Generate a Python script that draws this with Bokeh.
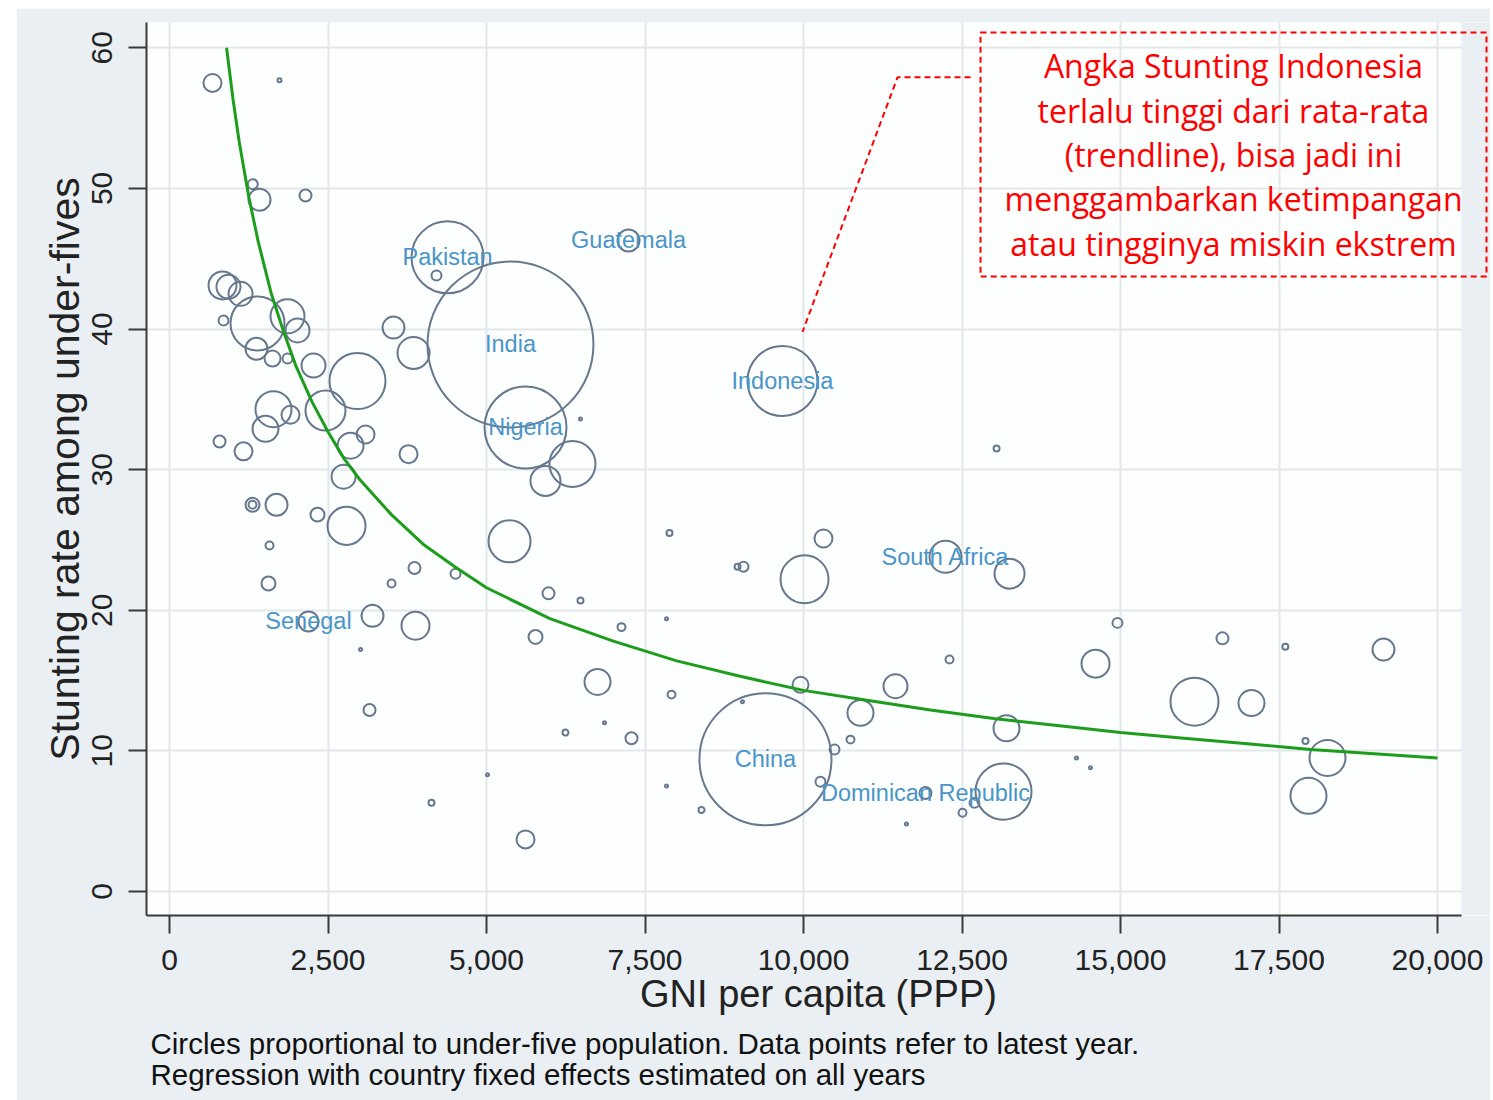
import math
from bokeh.plotting import figure
from bokeh.models import Range1d, Label, NumeralTickFormatter, FixedTicker, ColumnDataSource, Title
from bokeh.embed import file_html
from bokeh.resources import INLINE
from bokeh.core.properties import value

# ---------------- data ----------------
gni = [678, 1735, 1314, 1420, 2145, 836, 930, 1120, 852, 1388, 1861, 2019, 1372, 1625, 1861,
       2271, 2965, 2460, 1640, 1908, 1514, 789, 1167, 2855, 3092, 3770, 2745, 1309, 1309, 1688,
       2334, 2792, 1577, 1561, 3502, 3864, 4511, 2192, 3202, 3880, 3013, 3155, 4132, 5016,
       4385, 4211, 5378, 3533, 3849, 5615, 6356, 5930, 6482, 7240, 5363, 5978, 6482, 5773,
       7129, 7839, 7886, 6751, 7918, 6246, 6861, 7287, 5615, 7839, 8391, 9668, 13045, 9054,
       8960, 10315, 10016, 12240, 13250, 14952, 16608, 17600, 19148, 12303, 14606, 16167,
       17066, 9953, 11451, 10899, 10741, 10489, 13202, 9400, 18265, 17965, 17917, 10268,
       11924, 12697, 12508, 13155, 14306, 14527, 11624, 9038]
stunting = [57.5, 57.7, 50.3, 49.2, 49.5, 43.1, 43.0, 42.5, 40.6, 40.4, 40.9, 39.9, 38.6, 37.9, 37.9,
            37.4, 36.3, 34.2, 34.3, 33.9, 32.9, 32.0, 31.3, 31.7, 32.5, 31.1, 29.5, 27.5, 27.5, 27.5,
            26.8, 26.0, 24.6, 21.9, 21.9, 23.0, 22.6, 19.2, 19.6, 18.9, 17.2, 12.9, 6.3, 8.3,
            45.1, 43.8, 38.9, 40.1, 38.3, 33.0, 30.4, 29.2, 33.6, 46.3, 24.9, 21.2, 20.7, 18.1,
            18.8, 19.4, 25.5, 14.9, 14.0, 11.3, 12.0, 10.9, 3.7, 7.5, 5.8, 36.3, 31.5, 23.1,
            23.1, 25.1, 22.2, 23.8, 22.6, 19.1, 18.0, 17.4, 17.2, 16.5, 16.2, 13.5,
            13.4, 14.7, 14.6, 12.7, 10.8, 10.1, 11.6, 9.4, 9.5, 6.8, 10.7, 7.8,
            7.0, 6.3, 5.6, 7.1, 9.5, 8.8, 4.8, 13.5]
u5pop = [1.44, 0.07, 0.44, 2.15, 0.64, 3.48, 2.56, 2.56, 0.44, 12.96, 5.14, 2.56, 2.15, 1.14, 0.44,
         2.56, 13.94, 7.11, 5.76, 1.44, 3.00, 0.64, 1.44, 3.00, 1.44, 1.44, 2.56, 0.87, 0.28, 2.15,
         0.87, 6.42, 0.28, 0.87, 0.28, 0.64, 0.44, 1.78, 2.15, 3.48, 0.04, 0.64, 0.16, 0.04,
         23.04, 0.44, 122.4, 2.15, 4.55, 29.88, 9.40, 4.00, 0.04, 2.15, 7.84, 0.64, 0.16, 0.87,
         0.28, 0.04, 0.16, 3.00, 0.28, 0.16, 0.04, 0.64, 1.44, 0.04, 0.16, 21.78, 0.16, 0.44,
         0.16, 1.44, 10.24, 4.55, 4.00, 0.44, 0.64, 0.16, 2.15, 0.28, 3.48, 10.24,
         3.00, 1.14, 2.56, 3.00, 0.28, 0.44, 3.00, 77.44, 5.76, 5.76, 0.16, 0.44,
         0.64, 0.44, 0.28, 13.94, 0.04, 0.04, 0.04, 0.04]
country = [""] * len(gni)
labelled = {37: "Senegal", 44: "Pakistan", 46: "India", 49: "Nigeria", 53: "Guatemala",
            69: "Indonesia", 75: "South Africa", 91: "China", 96: "Dominican Republic"}
for i, n in labelled.items():
    country[i] = n

trend_gni = [900, 1000, 1100, 1250, 1400, 1600, 1800, 2000, 2250, 2500, 2750, 3000, 3500, 4000,
             4500, 5000, 6000, 7000, 8000, 9000, 10000, 11000, 12000, 13000, 14000, 15000,
             16000, 17000, 18000, 19000, 20000]
trend_stunting = [60.0, 56.4, 53.3, 49.4, 46.2, 42.6, 39.8, 37.3, 34.8, 32.7, 30.8, 29.3, 26.8, 24.7,
                  23.1, 21.6, 19.4, 17.8, 16.4, 15.3, 14.3, 13.6, 12.9, 12.3, 11.8, 11.3,
                  10.9, 10.5, 10.1, 9.8, 9.5]

x_ticks = [0, 2500, 5000, 7500, 10000, 12500, 15000, 17500, 20000]
y_ticks = [0, 10, 20, 30, 40, 50, 60]

note_text = ("Angka Stunting Indonesia\nterlalu tinggi dari rata-rata\n(trendline), bisa jadi ini\n"
             "menggambarkan ketimpangan\natau tingginya miskin ekstrem")
conn_gni = [12634, 11483, 9984]
conn_stunting = [57.9, 57.9, 39.8]
caption1 = "Circles proportional to under-five population. Data points refer to latest year."
caption2 = "Regression with country fixed effects estimated on all years"

OUTER = "#e9eff3"
X0, X1, XEND = -363, 20379, 20836
Y0, Y1 = -1.71, 61.8

# ---------------- figure ----------------
p = figure(width=1474, height=1092, output_backend="svg", toolbar_location=None,
           x_range=Range1d(X0, XEND), y_range=Range1d(Y0, Y1),
           min_border_left=130, min_border_right=0, min_border_top=14, min_border_bottom=185)
p.margin = (8, 0, 0, 16)
p.background_fill_color = "#fdfefe"
p.border_fill_color = OUTER
p.outline_line_color = None

for ax in (p.xaxis[0], p.yaxis[0]):
    ax.axis_line_color = "#3a3a3a"
    ax.axis_line_width = 2
    ax.major_tick_line_color = "#3a3a3a"
    ax.major_tick_line_width = 2
    ax.major_tick_out = 18
    ax.major_tick_in = 0
    ax.minor_tick_line_color = None
    ax.major_label_text_font = "Liberation Sans"
    ax.major_label_text_font_size = "30px"
    ax.major_label_text_color = "#222222"
    ax.axis_label_text_font = "Liberation Sans"
    ax.axis_label_text_font_style = "normal"
    ax.axis_label_text_color = "#222222"

p.xaxis.bounds = (X0, X1)
p.xaxis.ticker = FixedTicker(ticks=x_ticks)
p.yaxis.ticker = FixedTicker(ticks=y_ticks)
p.xaxis.formatter = NumeralTickFormatter(format="0,0")
p.yaxis.major_label_orientation = "vertical"
p.xaxis.major_label_standoff = 16
p.yaxis.major_label_standoff = 16
p.xaxis.axis_label = "GNI per capita (PPP)"
p.xaxis.axis_label_text_font_size = "38px"
p.xaxis.axis_label_standoff = 0
p.yaxis.axis_label = "Stunting rate among under-fives"
p.yaxis.axis_label_text_font_size = "41px"
p.yaxis.axis_label_standoff = 2

p.xgrid.ticker = FixedTicker(ticks=x_ticks)
p.ygrid.ticker = FixedTicker(ticks=y_ticks)
for g in (p.xgrid[0], p.ygrid[0]):
    g.grid_line_color = "#e3e7ea"
    g.grid_line_width = 2

# strip right of the plot area keeps the outer colour
p.quad(left=[X1], right=[XEND], bottom=[Y0], top=[Y1], fill_color=OUTER, line_color=None)

src = ColumnDataSource(dict(gni=gni, stunting=stunting,
                            size=[15 * math.sqrt(v) for v in u5pop], country=country))
p.scatter("gni", "stunting", size="size", source=src, marker="circle",
          fill_color=None, line_color="#67788e", line_width=2)

p.line(trend_gni, trend_stunting, line_color="#1c9e1c", line_width=3)

lab_idx = [i for i, n in enumerate(country) if n]
p.text([gni[i] for i in lab_idx], [stunting[i] for i in lab_idx], text=[country[i] for i in lab_idx],
       text_align="center", text_baseline="middle", text_font=value("Liberation Sans"),
       text_font_size="23.5px", text_color="#4a95c8")

p.line(conn_gni, conn_stunting, line_color="#ff0000", line_dash="6 4", line_width=2)

note = Label(x=1087, y=761, x_units="screen", y_units="screen", text=note_text,
             text_align="center", text_baseline="middle", text_font="Open Sans",
             text_font_size="32px", text_color="#ff0000", text_line_height=1.03,
             border_line_color="#ff0000", border_line_dash="6 4", border_line_width=2,
             padding=dict(left=24, right=24, top=12, bottom=12))
p.add_layout(note)

p.add_layout(Title(text=caption1 + "\n" + caption2, align="left", offset=4,
                   text_font="Liberation Sans", text_font_size="29.5px", text_font_style="normal",
                   text_color="#111111", text_line_height=0.95, standoff=15), "below")

open("out.html", "w").write(file_html(p, INLINE))
